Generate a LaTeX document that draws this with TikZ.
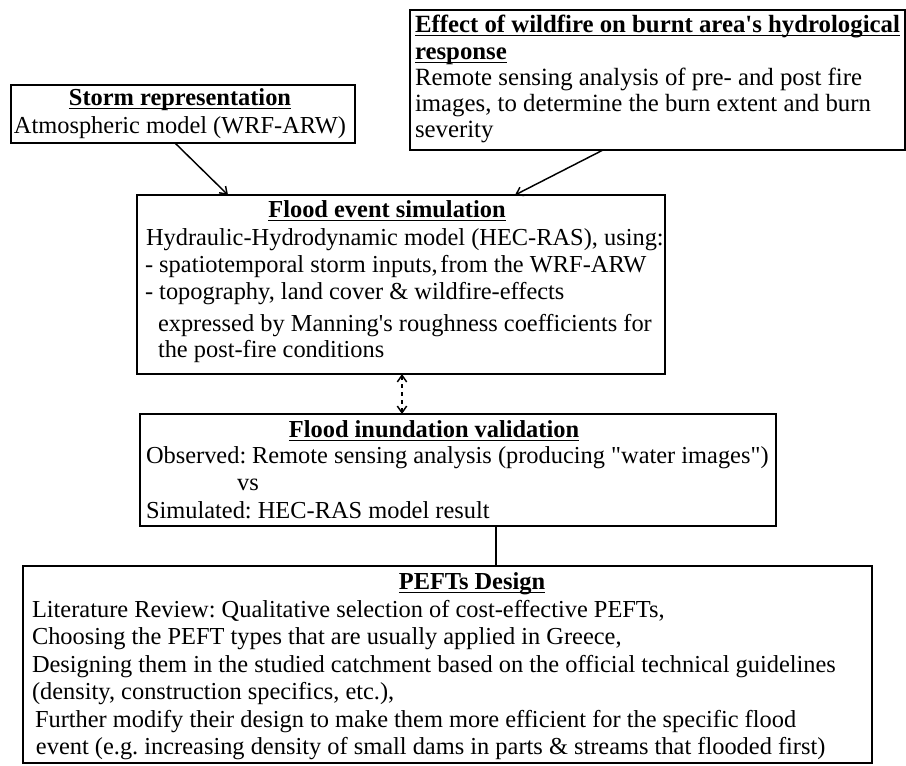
\documentclass[tikz,border=0pt]{standalone}
\usepackage{fontspec}
\setmainfont{Liberation Serif}
\usetikzlibrary{arrows.meta,calc}
% plain fonts without TeX ligature mapping, for straight quote marks
\font\plainrm="Liberation Serif" at 18.3pt
\font\plainbfL="Liberation Serif/B" at 18.6pt
\newcommand\apos{{\plainrm'}}
\newcommand\aposb{{\plainbfL'}}
\newcommand\dquote{{\plainrm"}}
\newsavebox\titlebox
\newcommand\ultitle[1]{\sbox\titlebox{\bfseries #1}\rlap{\rule[-3pt]{\wd\titlebox}{1.1pt}}\usebox\titlebox}
\frenchspacing
\begin{document}
\begin{tikzpicture}[x=0.75pt,y=-0.75pt,
  box/.style={draw,line width=1.5pt,rectangle,inner sep=0pt,outer sep=0pt,anchor=north west},
  txt/.style={inner sep=0pt,outer sep=0pt,anchor=base west,font=\fontsize{18.3}{20.5}\selectfont\frenchspacing},
  bigtxt/.style={txt,font=\fontsize{18.6}{20.5}\selectfont\frenchspacing},
  ctxt/.style={txt,anchor=base},
  link/.style={line width=1.1pt,-{Straight Barb[length=5pt,width=7pt]}},
  dlink/.style={line width=1.1pt,dashed,{Straight Barb[length=5pt,width=7pt]}-{Straight Barb[length=5pt,width=7pt]}},
  plain/.style={line width=1.1pt}
]
\useasboundingbox (0,0) rectangle (906,765);

% storm representation
\node[box,minimum width=258pt,minimum height=43.5pt] (storm) at (11,85) {};
\node[ctxt] (stormT) at (180,105) {\ultitle{Storm representation}};
\node[ctxt] (stormL) at (180,133) {Atmospheric model (WRF-ARW)};

% wildfire effect
\node[box,minimum width=371.25pt,minimum height=105pt] (fire) at (410,10) {};
\node[bigtxt] (fireT1) at (415,32) {\ultitle{Effect of wildfire on burnt area\aposb s hydrological}};
\node[bigtxt] (fireT2) at (415,59) {\ultitle{response}};
\node[bigtxt] (fireL1) at (415,85) {Remote sensing analysis of pre- and post fire};
\node[bigtxt] (fireL2) at (415,111) {images, to determine the burn extent and burn};
\node[bigtxt] (fireL3) at (415,137) {severity};

% flood event simulation
\node[box,minimum width=396pt,minimum height=134.25pt] (flood) at (137,195) {};
\node[ctxt] (floodT) at (387,217) {\ultitle{Flood event simulation}};
\node[txt] (floodL1) at (146,245) {Hydraulic-Hydrodynamic model (HEC-RAS), using:};
\node[txt] (floodL2) at (145,272) {- spatiotemporal storm inputs,\kern2pt from the WRF-ARW};
\node[txt] (floodL3) at (145,299) {- topography, land cover \& wildfire-effects};
\node[txt] (floodL4) at (158,331) {expressed by Manning\apos s roughness coefficients for};
\node[txt] (floodL5) at (158,357) {the post-fire conditions};

% flood inundation validation
\node[box,minimum width=477pt,minimum height=84pt] (valid) at (140,414) {};
\node[ctxt] (validT) at (434,437) {\ultitle{Flood inundation validation}};
\node[txt] (validL1) at (146,463) {Observed:};
\node[txt] (validL1b) at (252,463) {Remote sensing analysis (producing \dquote water images\dquote)};
\node[ctxt] (validL2) at (248,490) {vs};
\node[txt] (validL3) at (146,518) {Simulated: HEC-RAS model result};

% PEFTs design
\node[box,minimum width=636.75pt,minimum height=147.75pt] (pefts) at (23,566) {};
\node[ctxt] (peftsT) at (472,589) {\ultitle{PEFTs Design}};
\node[txt] (peftsL1) at (32,617) {Literature Review: Qualitative selection of cost-effective PEFTs,};
\node[txt] (peftsL2) at (32,644) {Choosing the PEFT types that are usually applied in Greece,};
\node[txt] (peftsL3) at (32,672) {Designing them in the studied catchment based on the official technical guidelines};
\node[txt] (peftsL4) at (32,699) {(density, construction specifics, etc.),};
\node[txt] (peftsL5) at (35,727) {Further modify their design to make them more efficient for the specific flood};
\node[txt] (peftsL6) at (36,754) {event (e.g. increasing density of small dams in parts \& streams that flooded first)};

% connectors
\draw[link] ($(storm.south west)+(164,0)$) -- ($(flood.north west)+(91,0)$);
\draw[link] ($(fire.south west)+(193,0)$) -- ($(flood.north west)+(378,0)$);
\draw[dlink] ($(flood.south west)+(265,0)$) -- ($(valid.north west)+(262,0)$);
\draw[plain] ($(valid.south west)+(356,0)$) -- ($(pefts.north west)+(473,0)$);
\end{tikzpicture}
\end{document}
